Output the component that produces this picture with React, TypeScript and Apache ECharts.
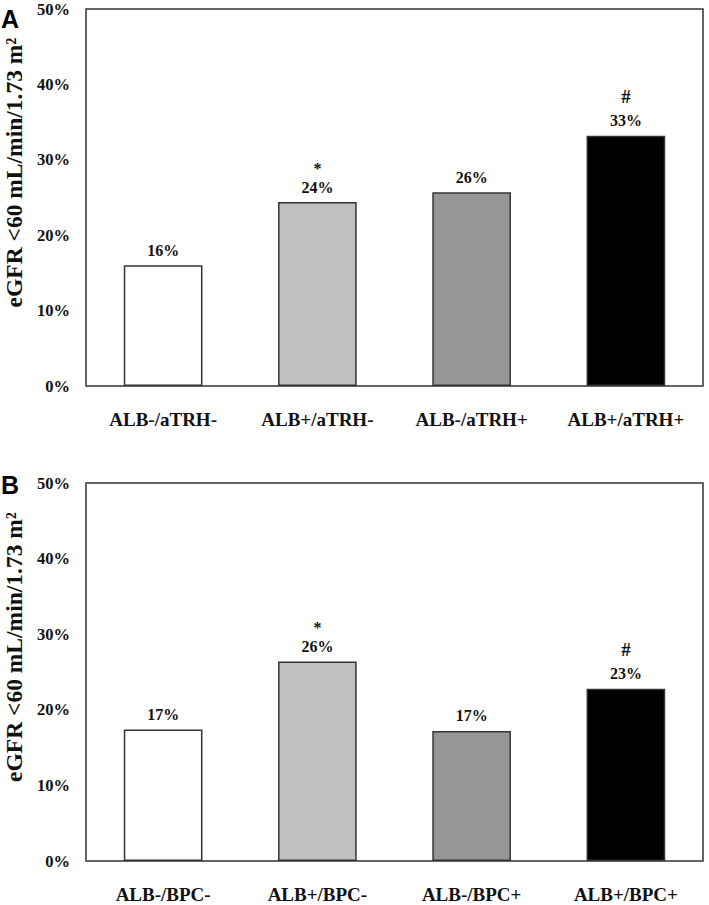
import React, { useEffect, useRef } from "react";
import * as echarts from "echarts";

const categoriesA = ["ALB-/aTRH-", "ALB+/aTRH-", "ALB-/aTRH+", "ALB+/aTRH+"];
const valuesA = [16.0, 24.4, 25.7, 33.2];
const markersA = ["", "*", "", "#"];

const categoriesB = ["ALB-/BPC-", "ALB+/BPC-", "ALB-/BPC+", "ALB+/BPC+"];
const valuesB = [17.4, 26.4, 17.2, 22.8];
const markersB = ["", "*", "", "#"];

const barColors = ["#ffffff", "#c0c0c0", "#969696", "#000000"];
const yTicks = { min: 0, max: 50, interval: 10 };
const yName = "eGFR <60 mL/min/1.73 m²";

const serif = "'Liberation Serif', 'Times New Roman', serif";

function makeData(values: number[], markers: string[]) {
  return values.map((v, i) => ({
    value: v,
    marker: markers[i],
    itemStyle: { color: barColors[i] },
  }));
}

export default function App() {
  const ref = useRef<HTMLDivElement>(null);
  useEffect(() => {
    document.body.style.margin = "0";
    const chart = echarts.init(ref.current!, undefined, { renderer: "svg" });
    const grids = [
      { left: 86, right: 6, top: 9, height: 377, show: true, borderColor: "#333", borderWidth: 1.5, backgroundColor: "#fff", containLabel: false, outerBoundsMode: "none" },
      { left: 86, right: 6, top: 483, height: 378, show: true, borderColor: "#333", borderWidth: 1.5, backgroundColor: "#fff", containLabel: false, outerBoundsMode: "none" },
    ];
    const xAxis = [categoriesA, categoriesB].map((cats, i) => ({
      type: "category" as const,
      gridIndex: i,
      data: cats,
      axisLine: { show: false },
      axisTick: { show: false },
      axisLabel: {
        margin: 24,
        fontFamily: serif,
        fontWeight: "bold" as const,
        fontSize: 19,
        color: "#111",
      },
    }));
    const yAxis = [0, 1].map((i) => ({
      type: "value" as const,
      gridIndex: i,
      min: yTicks.min,
      max: yTicks.max,
      interval: yTicks.interval,
      name: yName,
      nameLocation: "middle" as const,
      nameGap: 59,
      nameTextStyle: {
        fontFamily: serif,
        fontWeight: "bold" as const,
        fontSize: 23.5,
        color: "#111",
        padding: [0, 0, 0, 50],
      },
      axisLine: { show: false },
      axisTick: { show: false },
      splitLine: { show: false },
      axisLabel: {
        margin: 16,
        formatter: "{value}%",
        fontFamily: serif,
        fontWeight: "bold" as const,
        fontSize: 16.5,
        color: "#111",
        padding: [4, 0, 0, 0],
      },
    }));
    const labelCfg = {
      show: true,
      position: "top" as const,
      distance: 6,
      formatter: (p: any) => {
        const m = p.data.marker;
        const v = `{v|${Math.round(p.value)}%}`;
        if (m === "*") return `{s|*}\n${v}`;
        if (m === "#") return `{h|#}\n${v}`;
        return v;
      },
      rich: {
        v: { fontFamily: serif, fontWeight: "bold", fontSize: 16, color: "#111", lineHeight: 18 },
        s: { fontFamily: serif, fontWeight: "bold", fontSize: 16, color: "#111", lineHeight: 20 },
        h: { fontFamily: serif, fontWeight: "bold", fontSize: 19, color: "#111", lineHeight: 30 },
      },
    };
    chart.setOption({
      animation: false,
      backgroundColor: "#fff",
      grid: grids,
      xAxis,
      yAxis,
      graphic: [
        { type: "text", left: 1, top: 6, style: { text: "A", fontFamily: "'Liberation Sans', Arial, sans-serif", fontWeight: "bold", fontSize: 25, fill: "#000" } },
        { type: "text", left: 1, top: 472, style: { text: "B", fontFamily: "'Liberation Sans', Arial, sans-serif", fontWeight: "bold", fontSize: 25, fill: "#000" } },
      ],
      series: [
        {
          type: "bar",
          xAxisIndex: 0,
          yAxisIndex: 0,
          barWidth: "51%",
          data: makeData(valuesA, markersA),
          itemStyle: { borderColor: "#333", borderWidth: 1.5 },
          label: labelCfg,
        },
        {
          type: "bar",
          xAxisIndex: 1,
          yAxisIndex: 1,
          barWidth: "51%",
          data: makeData(valuesB, markersB),
          itemStyle: { borderColor: "#333", borderWidth: 1.5 },
          label: labelCfg,
        },
      ],
    });
    return () => chart.dispose();
  }, []);
  return <div ref={ref} style={{ width: 709, height: 905 }} />;
}
